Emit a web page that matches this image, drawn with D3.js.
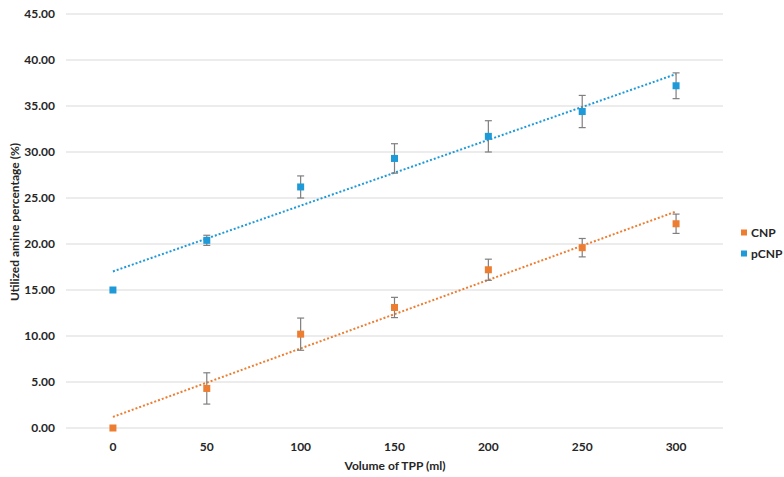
<!DOCTYPE html>
<html>
<head>
<meta charset="utf-8">
<script src="https://cdn.jsdelivr.net/npm/d3@7"></script>
<style>
  body { margin: 0; background: #fff; }
  text { font-family: Lato, "Open Sans", sans-serif; font-weight: bold; fill: #262626; }
</style>
</head>
<body>
<script>
// data
var tpp = [0, 50, 100, 150, 200, 250, 300];
var cnp = [0, 4.3, 10.2, 13.1, 17.2, 19.6, 22.2];
var cnpErr = [0, 1.7, 1.75, 1.1, 1.15, 1.0, 1.05];
var pcnp = [15.0, 20.4, 26.2, 29.3, 31.7, 34.4, 37.2];
var pcnpErr = [0, 0.55, 1.2, 1.6, 1.7, 1.75, 1.4];
var yTicks = [0, 5, 10, 15, 20, 25, 30, 35, 40, 45];

var series = [
  { name: "CNP", values: cnp, err: cnpErr, colour: "#ED7D31" },
  { name: "pCNP", values: pcnp, err: pcnpErr, colour: "#1E9AD8" }
];

var width = 784, height = 477;

var svg = d3.select("body").append("svg")
    .attr("width", width)
    .attr("height", height);

var x = d3.scaleLinear().domain([-25, 325]).range([66, 723]);
var y = d3.scaleLinear().domain([0, 45]).range([428, 14]);

// gridlines
svg.append("g").selectAll("line")
    .data(yTicks)
    .enter().append("line")
    .attr("x1", x(-25))
    .attr("x2", x(325))
    .attr("y1", function(d) { return y(d); })
    .attr("y2", function(d) { return y(d); })
    .attr("stroke", "#d9d9d9")
    .attr("stroke-width", 1);

// y tick labels
svg.append("g").selectAll("text")
    .data(yTicks)
    .enter().append("text")
    .attr("x", 55)
    .attr("y", function(d) { return y(d) + 4; })
    .attr("text-anchor", "end")
    .style("font-size", "12px")
    .text(function(d) { return d.toFixed(2); });

// x tick labels
svg.append("g").selectAll("text")
    .data(tpp)
    .enter().append("text")
    .attr("x", function(d) { return x(d); })
    .attr("y", 451)
    .attr("text-anchor", "middle")
    .style("font-size", "12px")
    .text(function(d) { return d; });

// axis titles
svg.append("text")
    .attr("x", 395)
    .attr("y", 470)
    .attr("text-anchor", "middle")
    .style("font-size", "12px")
    .text("Volume of TPP (ml)");

svg.append("text")
    .attr("transform", "translate(19," + 222 + ") rotate(-90)")
    .attr("text-anchor", "middle")
    .style("font-size", "12px")
    .text("Utilized amine percentage (%)");

// least squares trendline
function fit(xs, ys) {
  var mx = d3.mean(xs), my = d3.mean(ys);
  var sxy = d3.sum(xs, function(v, i) { return (v - mx) * (ys[i] - my); });
  var sxx = d3.sum(xs, function(v) { return (v - mx) * (v - mx); });
  var b = sxy / sxx;
  return { a: my - b * mx, b: b };
}

series.forEach(function(s) {
  var f = fit(tpp, s.values);
  var g = svg.append("g");

  g.append("line")
      .attr("x1", x(0)).attr("y1", y(f.a))
      .attr("x2", x(300)).attr("y2", y(f.a + f.b * 300))
      .attr("stroke", s.colour)
      .attr("stroke-width", 2)
      .attr("stroke-dasharray", "2,2");

  var pts = tpp.map(function(t, i) { return { x: t, y: s.values[i], e: s.err[i] }; });

  // error bars
  var eb = g.selectAll(".err")
      .data(pts.filter(function(p) { return p.e > 0; }))
      .enter().append("g")
      .attr("stroke", "#7f7f7f")
      .attr("stroke-width", 1.2);
  eb.append("line")
      .attr("x1", function(p) { return x(p.x); })
      .attr("x2", function(p) { return x(p.x); })
      .attr("y1", function(p) { return y(p.y - p.e); })
      .attr("y2", function(p) { return y(p.y + p.e); });
  eb.append("line")
      .attr("x1", function(p) { return x(p.x) - 3.5; })
      .attr("x2", function(p) { return x(p.x) + 3.5; })
      .attr("y1", function(p) { return y(p.y - p.e); })
      .attr("y2", function(p) { return y(p.y - p.e); });
  eb.append("line")
      .attr("x1", function(p) { return x(p.x) - 3.5; })
      .attr("x2", function(p) { return x(p.x) + 3.5; })
      .attr("y1", function(p) { return y(p.y + p.e); })
      .attr("y2", function(p) { return y(p.y + p.e); });

  // markers
  g.selectAll("rect")
      .data(pts)
      .enter().append("rect")
      .attr("x", function(p) { return x(p.x) - 3.5; })
      .attr("y", function(p) { return y(p.y) - 3.5; })
      .attr("width", 7)
      .attr("height", 7)
      .attr("fill", s.colour);
});

// legend
var legend = svg.append("g").selectAll("g")
    .data(series)
    .enter().append("g")
    .attr("transform", function(d, i) { return "translate(741," + (233 + i * 21) + ")"; });
legend.append("rect")
    .attr("x", 0).attr("y", -3.5)
    .attr("width", 6).attr("height", 6)
    .attr("fill", function(d) { return d.colour; });
legend.append("text")
    .attr("x", 10)
    .attr("y", 4)
    .style("font-size", "12px")
    .text(function(d) { return d.name; });
</script>
</body>
</html>
